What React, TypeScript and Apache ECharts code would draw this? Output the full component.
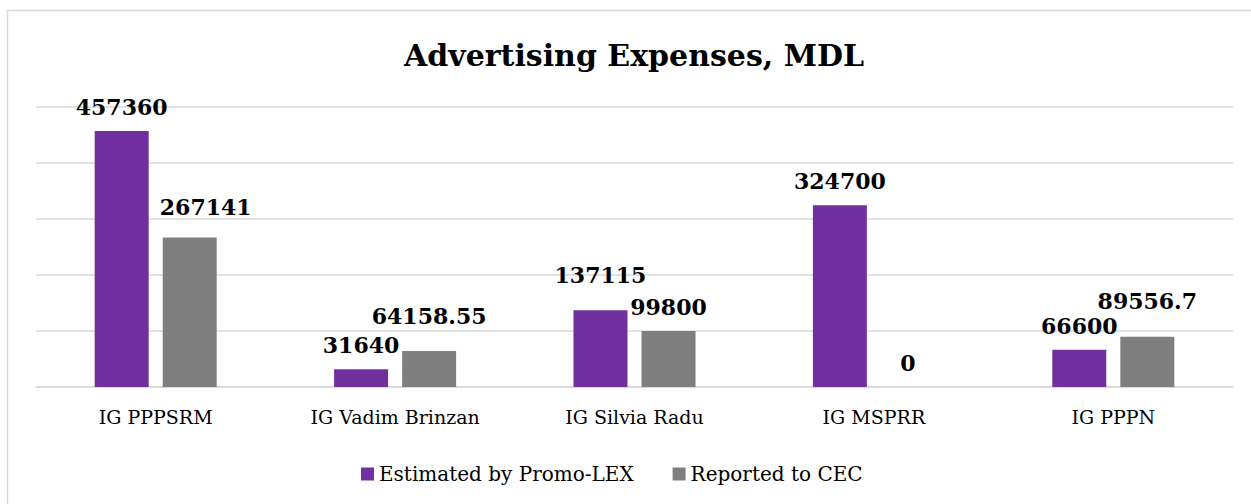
import React, { useEffect, useRef } from "react";
import * as echarts from "echarts";

const categories = ["IG PPPSRM", "IG Vadim Brinzan", "IG Silvia Radu", "IG MSPRR", "IG PPPN"];
const estimatedByPromoLex = [457360, 31640, 137115, 324700, 66600];
const reportedToCEC = [267141, 64158.55, 99800, 0, 89556.7];
const seriesNames = ["Estimated by Promo-LEX", "Reported to CEC"];
const yTicks = [0, 100000, 200000, 300000, 400000, 500000];

const SERIF = "'DejaVu Serif', 'Liberation Serif', serif";

export default function App() {
  const ref = useRef<HTMLDivElement>(null);

  useEffect(() => {
    if (!ref.current) return;
    const chart = echarts.init(ref.current, null, { renderer: "svg" });

    // label placement tweaks (distance above bar, horizontal offset)
    const estDist = [13, 13, 24, 13, 13];
    const repDist = [19, 24, 13, 13, 25];
    const repOffX = [16, 0, 0, 0, 0];

    const labelBase = {
      show: true,
      position: "top",
      fontFamily: SERIF,
      fontWeight: "bold",
      fontSize: 22,
      color: "#000",
    };

    chart.setOption({
      animation: false,
      backgroundColor: "#fff",
      graphic: [
        {
          type: "rect",
          shape: { x: 7.5, y: 10.5, width: 1260, height: 520 },
          style: { fill: "none", stroke: "#d9d9d9", lineWidth: 1.5 },
          silent: true,
        },
      ],
      title: {
        text: "Advertising Expenses, MDL",
        left: 629,
        textAlign: "center",
        top: 35,
        textStyle: { fontFamily: SERIF, fontWeight: "bold", fontSize: 30, color: "#000" },
      },
      legend: {
        data: seriesNames,
        left: 356,
        top: 459,
        icon: "rect",
        itemWidth: 13,
        itemHeight: 13,
        itemGap: 39,
        textStyle: { fontFamily: SERIF, fontSize: 20, color: "#000" },
      },
      grid: { left: 36, right: 18, top: 107, bottom: 117, containLabel: false },
      xAxis: {
        type: "category",
        data: categories,
        axisLine: { show: true, lineStyle: { color: "#d9d9d9", width: 1.5 } },
        axisTick: { show: false },
        axisLabel: { fontFamily: SERIF, fontSize: 19, color: "#000", margin: 20 },
      },
      yAxis: {
        type: "value",
        min: yTicks[0],
        max: yTicks[yTicks.length - 1],
        interval: yTicks[1] - yTicks[0],
        axisLabel: { show: false },
        axisLine: { show: false },
        axisTick: { show: false },
        splitLine: { lineStyle: { color: "#d9d9d9", width: 1.5 } },
      },
      series: [
        {
          name: seriesNames[0],
          type: "bar",
          barWidth: 54,
          barGap: "26%",
          itemStyle: { color: "#7030A0" },
          data: estimatedByPromoLex.map((v, i) => ({
            value: v,
            label: { ...labelBase, distance: estDist[i] },
          })),
        },
        {
          name: seriesNames[1],
          type: "bar",
          barWidth: 54,
          barGap: "26%",
          itemStyle: { color: "#7F7F7F" },
          data: reportedToCEC.map((v, i) => ({
            value: v,
            label: { ...labelBase, distance: repDist[i], offset: [repOffX[i], 0] },
          })),
        },
      ],
    });

    return () => chart.dispose();
  }, []);

  return (
    <div
      ref={ref}
      style={{ position: "fixed", left: 0, top: 0, width: 1251, height: 504, background: "#fff" }}
    />
  );
}
